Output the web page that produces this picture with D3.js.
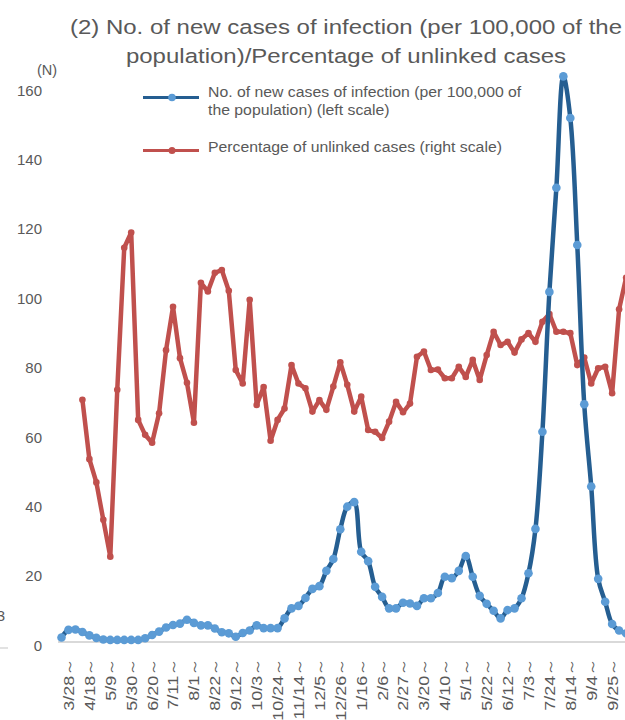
<!DOCTYPE html>
<html>
<head>
<meta charset="utf-8">
<script src="https://cdn.jsdelivr.net/npm/d3@7"></script>
<style>
  html, body { margin: 0; padding: 0; background: #fff; }
  svg { display: block; }
  text { font-family: "Liberation Sans", Arial, sans-serif; fill: #595959; }
</style>
</head>
<body>
<svg id="chart" width="625" height="720"></svg>
<script>
// ---- data (weekly, starting week of 3/21/2020) ----
const startDate = new Date(2020, 2, 21);
const weekCount = 82;

// No. of new cases of infection per 100,000 population (left scale)
const newCases = [
  1.3, 3.5, 3.6, 2.9, 1.9, 1.2, 0.7, 0.6, 0.6, 0.6,
  0.6, 0.6, 1.1, 2.0, 3.0, 4.2, 4.9, 5.3, 6.4, 5.5,
  4.8, 4.8, 3.9, 2.8, 2.5, 1.5, 2.6, 3.3, 4.8, 4.0,
  4.0, 4.0, 6.8, 9.7, 10.4, 12.7, 15.3, 16.1, 20.5, 23.9,
  32.5, 39.0, 40.3, 26.0, 23.3, 15.9, 13.0, 9.7, 9.7, 11.3,
  11.1, 10.4, 12.6, 12.6, 14.1, 18.8, 18.4, 20.5, 24.8, 18.8,
  13.3, 11.0, 9.0, 6.8, 9.2, 9.7, 12.6, 19.8, 32.6, 60.6,
  100.9, 130.9, 163.0, 151.0, 114.4, 68.5, 44.8, 18.2, 11.6, 5.2,
  3.3, 2.5
];

// Percentage of unlinked cases (right scale)
const unlinked = [
  null, null, null, 69.8, 52.7, 46.0, 35.2, 24.6, 72.7, 113.6,
  118.0, 64.0, 59.7, 57.4, 65.9, 84.1, 96.6, 81.8, 74.7, 63.2,
  103.5, 101.0, 106.4, 107.2, 101.2, 78.4, 74.5, 98.6, 68.3, 73.5,
  58.0, 64.0, 67.3, 79.8, 74.5, 73.1, 66.4, 69.7, 66.9, 73.6,
  80.6, 74.1, 66.4, 70.7, 61.1, 60.6, 58.8, 63.5, 69.2, 66.2,
  68.7, 82.2, 83.7, 78.4, 78.5, 76.0, 76.0, 79.3, 76.4, 81.3,
  75.5, 82.7, 89.4, 85.6, 86.5, 83.4, 87.2, 89.0, 86.5, 92.3,
  94.5, 89.4, 89.4, 89.0, 79.8, 82.0, 74.5, 78.9, 79.3, 71.7,
  95.9, 105.0
];

const tickLabels = [
  "3/28～", "4/18～", "5/9～", "5/30～", "6/20～", "7/11～", "8/1～", "8/22～",
  "9/12～", "10/3～", "10/24～", "11/14～", "12/5～", "12/26～", "1/16～", "2/6～",
  "2/27～", "3/20～", "4/10～", "5/1～", "5/22～", "6/12～", "7/3～", "7/24～",
  "8/14～", "9/4～", "9/25～"
];
const yTicks = [0, 20, 40, 60, 80, 100, 120, 140, 160];

const titleLines = [
  "(2) No. of new cases of infection (per 100,000 of the",
  "population)/Percentage of unlinked cases"
];
const legendBlue = ["No. of new cases of infection (per 100,000 of", "the population) (left scale)"];
const legendRed = "Percentage of unlinked cases (right scale)";

// ---- categories ----
const fmt = d3.timeFormat("%-m/%-d");
const categories = d3.range(weekCount).map(i => fmt(d3.timeDay.offset(startDate, 7 * i)) + "～");

// ---- layout ----
const svg = d3.select("#chart");
const x = d3.scalePoint().domain(categories).range([61.5, 61.5 + 6.97 * (weekCount - 1)]);
const y = d3.scaleLinear().domain([0, 160]).range([642, 86.8]);
const yRight = d3.scaleLinear().domain([0, 160]).range([642, 86.8]);

// left-edge fragment of neighbouring chart
svg.append("text").attr("x", 5).attr("y", 621).attr("text-anchor", "end")
  .style("font-size", "15px").text("3");
svg.append("line").attr("x1", 0).attr("x2", 8).attr("y1", 648).attr("y2", 648)
  .attr("stroke", "#d9d9d9").attr("stroke-width", 1.5);

// title
titleLines.forEach((t, i) => {
  svg.append("g")
    .attr("transform", `translate(346,${i === 0 ? 34 : 62.5}) scale(1,0.82)`)
    .append("text").attr("text-anchor", "middle")
    .style("font-size", "24px").text(t);
});

// baseline (category axis line)
svg.append("line")
  .attr("x1", 58).attr("x2", 640).attr("y1", y(0)).attr("y2", y(0))
  .attr("stroke", "#d9d9d9").attr("stroke-width", 2);

// y axis (left)
const yAxis = svg.append("g").attr("transform", "translate(50,0)")
  .call(d3.axisLeft(y).tickValues(yTicks).tickSize(0).tickPadding(8));
yAxis.select(".domain").remove();
yAxis.selectAll("text")
  .attr("y", 3.5)
  .style("font-family", "'Liberation Sans', Arial, sans-serif")
  .style("font-size", "15px").attr("fill", "#595959");

svg.append("text").attr("x", 47).attr("y", 75).attr("text-anchor", "middle")
  .style("font-size", "14.5px").text("(N)");

// x axis
const xAxis = svg.append("g").attr("transform", `translate(0,${y(0)})`)
  .call(d3.axisBottom(x).tickValues(tickLabels).tickSize(0));
xAxis.select(".domain").remove();
xAxis.selectAll(".tick text")
  .attr("x", 0).attr("y", 0).attr("dy", "0.35em")
  .attr("text-anchor", "end")
  .attr("transform", "translate(0,16) rotate(-90) scale(1,0.78)")
  .style("font-family", "'Liberation Sans', Arial, sans-serif")
  .style("font-size", "18px").attr("fill", "#595959");

// red series (right scale)
const redColor = "#c0504d";
const redPts = categories.map((c, i) => ({ c, v: unlinked[i] })).filter(d => d.v !== null);
svg.append("path").datum(redPts)
  .attr("fill", "none").attr("stroke", redColor).attr("stroke-width", 4.5)
  .attr("stroke-linejoin", "round")
  .attr("d", d3.line().x(d => x(d.c)).y(d => yRight(d.v)));
svg.append("g").selectAll("circle").data(redPts).join("circle")
  .attr("cx", d => x(d.c)).attr("cy", d => yRight(d.v)).attr("r", 3.3)
  .attr("fill", redColor);

// blue series (left scale)
const blueLine = "#255e91", blueDot = "#5b9bd5";
const bluePts = categories.map((c, i) => ({ c, v: newCases[i] }));
svg.append("path").datum(bluePts)
  .attr("fill", "none").attr("stroke", blueLine).attr("stroke-width", 4.5)
  .attr("stroke-linejoin", "round")
  .attr("d", d3.line().x(d => x(d.c)).y(d => y(d.v)).curve(d3.curveCatmullRom.alpha(0.5)));
svg.append("g").selectAll("circle").data(bluePts).join("circle")
  .attr("cx", d => x(d.c)).attr("cy", d => y(d.v)).attr("r", 4.3)
  .attr("fill", blueDot);

// legend
const lg = svg.append("g");
lg.append("line").attr("x1", 143).attr("x2", 199).attr("y1", 97.5).attr("y2", 97.5)
  .attr("stroke", blueLine).attr("stroke-width", 3);
lg.append("circle").attr("cx", 172).attr("cy", 97.5).attr("r", 3.8).attr("fill", blueDot);
lg.append("line").attr("x1", 143).attr("x2", 199).attr("y1", 150.5).attr("y2", 150.5)
  .attr("stroke", redColor).attr("stroke-width", 3);
lg.append("circle").attr("cx", 172).attr("cy", 150.5).attr("r", 3.5).attr("fill", redColor);

[[legendBlue[0], 97], [legendBlue[1], 115], [legendRed, 152]].forEach(([t, by]) => {
  lg.append("g").attr("transform", `translate(208,${by}) scale(1,0.9)`)
    .append("text").style("font-size", "15.8px").text(t);
});
</script>
</body>
</html>
